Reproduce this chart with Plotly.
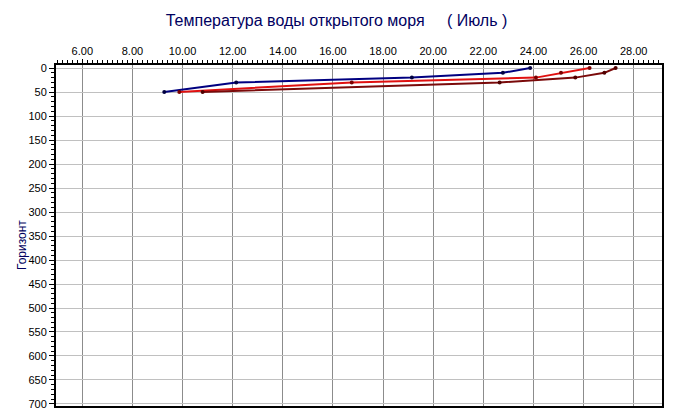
import plotly.graph_objects as go

# Data
depths = [0, 10, 20, 30, 50]
temp_blue = [23.87, 22.78, 19.15, 12.14, 9.27]
temp_red = [26.24, 25.10, 24.10, 16.75, 9.87]
temp_maroon = [27.28, 26.83, 25.67, 22.65, 10.80]

x_ticks = [6, 8, 10, 12, 14, 16, 18, 20, 22, 24, 26, 28]
y_ticks = list(range(0, 701, 50))

title_text = "Температура воды открытого моря     ( Июль )"
y_title = "Горизонт"

series = [
    (temp_blue, "#000080", "#000040"),
    (temp_red, "#e01010", "#7a0000"),
    (temp_maroon, "#7a0a0a", "#500000"),
]

fig = go.Figure()
for temps, lc, mc in series:
    fig.add_trace(go.Scatter(
        x=temps, y=depths, mode="lines+markers",
        line=dict(color=lc, width=2),
        marker=dict(color=mc, size=4),
        showlegend=False,
    ))

font_family = "Liberation Sans, Arial, sans-serif"

fig.update_layout(
    width=675, height=419,
    margin=dict(l=56, r=13, t=65, b=13, autoexpand=False),
    paper_bgcolor="white", plot_bgcolor="white",
    title=dict(text=title_text, x=0.4985, xanchor="center", y=0.952, yanchor="middle",
               font=dict(family=font_family, size=16, color="#000060")),
    font=dict(family=font_family, size=11, color="black"),
    xaxis=dict(
        side="top", range=[4.95, 29.13], automargin=False,
        tickmode="array", tickvals=x_ticks,
        ticktext=[f"{v:.2f}" for v in x_ticks],
        showgrid=True, gridcolor="#8c8c8c", gridwidth=1,
        ticks="outside", ticklen=4, tickcolor="black",
        minor=dict(dtick=0.2, tick0=0, ticks="outside", ticklen=3, tickcolor="black", showgrid=False),
        showline=True, linecolor="black", linewidth=2, mirror=True,
        zeroline=False,
        tickfont=dict(size=11, color="black"),
    ),
    yaxis=dict(
        range=[704.2, -6.3], automargin=False,
        tickmode="array", tickvals=y_ticks,
        ticktext=[str(v) for v in y_ticks],
        showgrid=True, gridcolor="#c0c0c0", gridwidth=1,
        ticks="outside", ticklen=5, tickcolor="black",
        minor=dict(dtick=10, tick0=0, ticks="outside", ticklen=3, tickcolor="black", showgrid=False),
        showline=True, linecolor="black", linewidth=2, mirror=True,
        zeroline=False,
        tickfont=dict(size=11, color="black"),
    ),
    annotations=[dict(
        text=y_title, textangle=-90, showarrow=False,
        xref="paper", yref="paper", x=-0.0561, y=0.472,
        xanchor="center", yanchor="middle",
        font=dict(family=font_family, size=12, color="#000060"),
    )],
)

fig.write_html("out.html", config={"displayModeBar": False},
               post_script="document.body.style.margin='0px';document.body.style.overflow='hidden';")
